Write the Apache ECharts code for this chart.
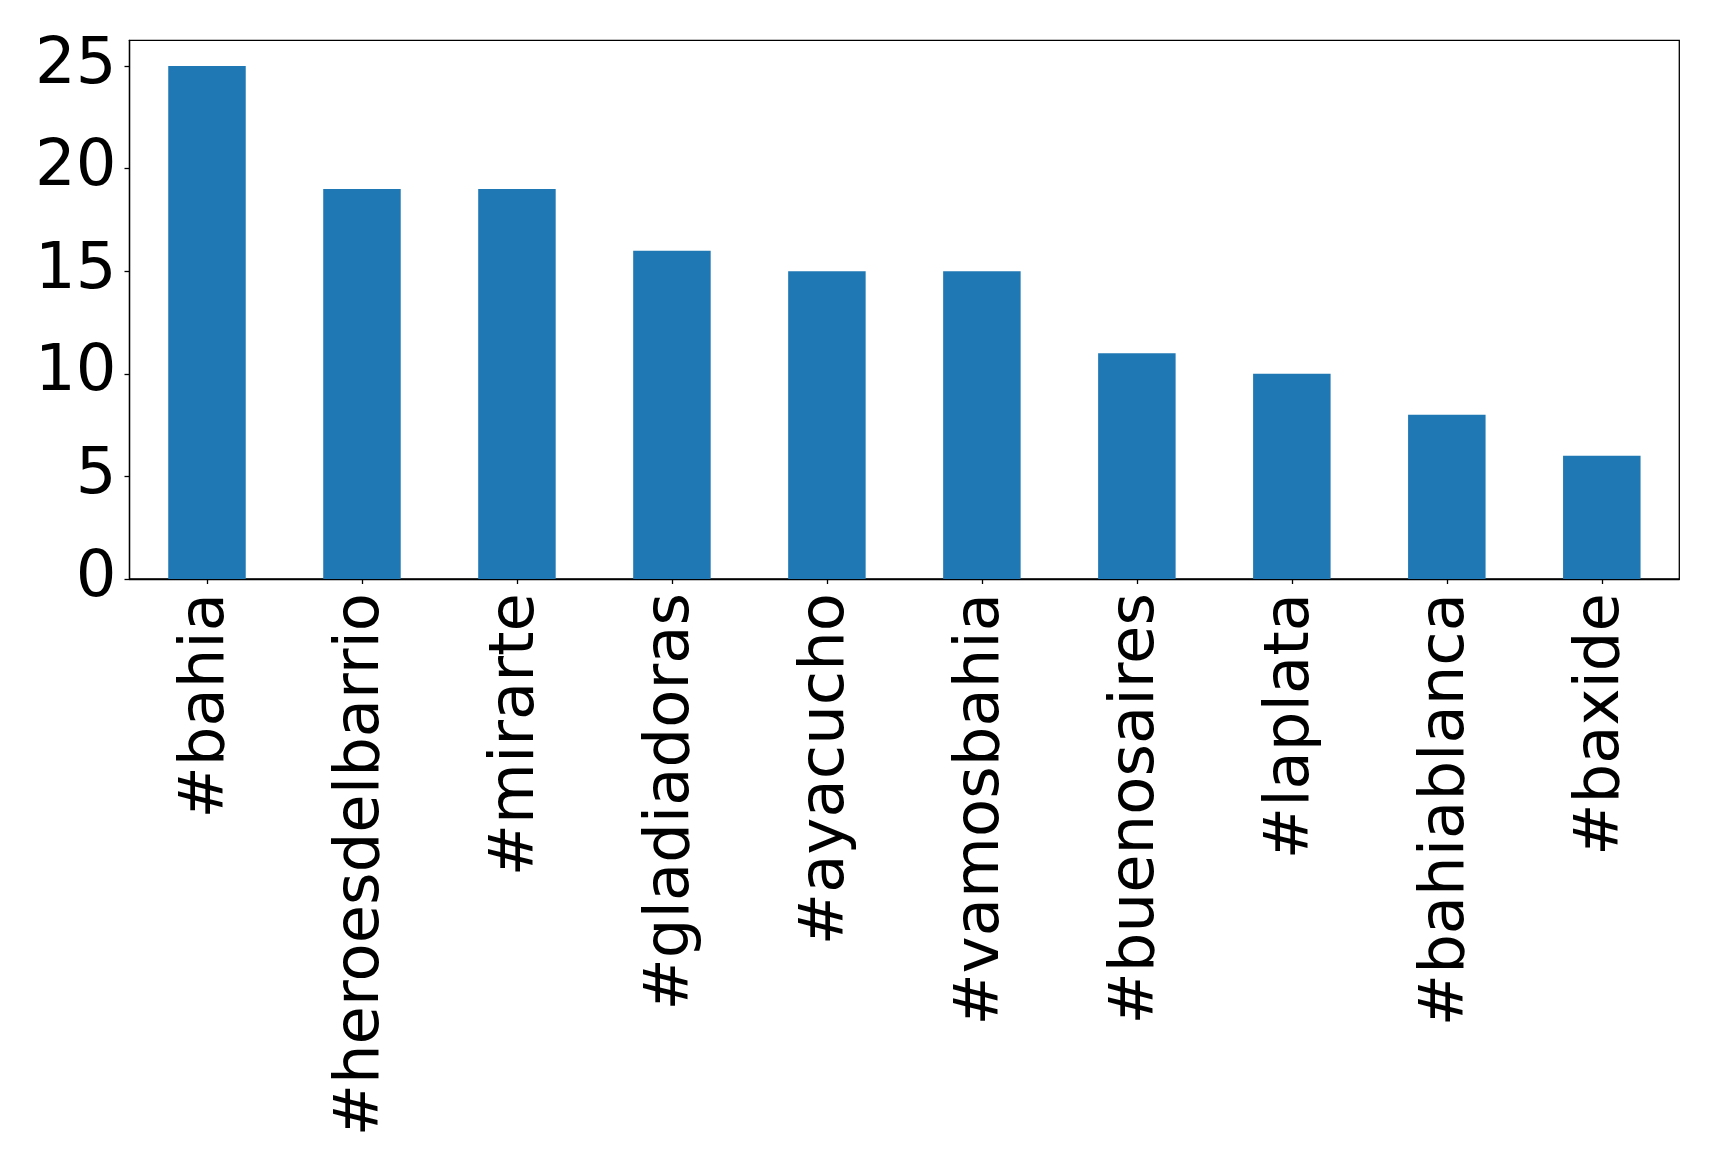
<!DOCTYPE html>
<html>
<head>
<meta charset="utf-8">
<script src="https://cdn.jsdelivr.net/npm/echarts@6/dist/echarts.min.js"></script>
<style>
html,body{margin:0;padding:0;background:#fff;}
#chart{width:1719px;height:1172px;}
</style>
</head>
<body>
<div id="chart"></div>
<script>
const categories = ['#bahia','#heroesdelbarrio','#mirarte','#gladiadoras','#ayacucho','#vamosbahia','#buenosaires','#laplata','#bahiablanca','#baxide'];
const counts = [25, 19, 19, 16, 15, 15, 11, 10, 8, 6];
const yTicks = [0, 5, 10, 15, 20, 25];

const chart = echarts.init(document.getElementById('chart'), null, {renderer: 'canvas'});
chart.setOption({
  animation: false,
  backgroundColor: '#ffffff',
  grid: {
    left: 129.5, right: 39.7, top: 40.3, bottom: 593,
    show: true, borderColor: '#000', borderWidth: 1.3, backgroundColor: 'transparent'
  },
  xAxis: {
    type: 'category',
    data: categories,
    axisLine: {show: true, lineStyle: {color: '#000', width: 1.3}},
    axisTick: {show: true, alignWithLabel: true, length: 5, lineStyle: {color: '#000', width: 1.3}},
    axisLabel: {
      rotate: 90, interval: 0, margin: 14,
      fontFamily: 'DejaVu Sans', fontSize: 62.5, color: '#000'
    },
    splitLine: {show: false}
  },
  yAxis: {
    type: 'value',
    min: 0, max: 26.25, interval: 5,
    axisLine: {show: true, lineStyle: {color: '#000', width: 1.3}},
    axisTick: {show: true, length: 5, lineStyle: {color: '#000', width: 1.3}},
    axisLabel: {
      margin: 13, fontFamily: 'DejaVu Sans', fontSize: 64, color: '#000',
      showMaxLabel: false,
      formatter: function (v) { return yTicks.indexOf(v) >= 0 ? String(v) : ''; }
    },
    splitLine: {show: false}
  },
  series: [{
    type: 'bar',
    data: counts,
    barWidth: '50%',
    itemStyle: {color: '#1f77b4'}
  }]
});
</script>
</body>
</html>
